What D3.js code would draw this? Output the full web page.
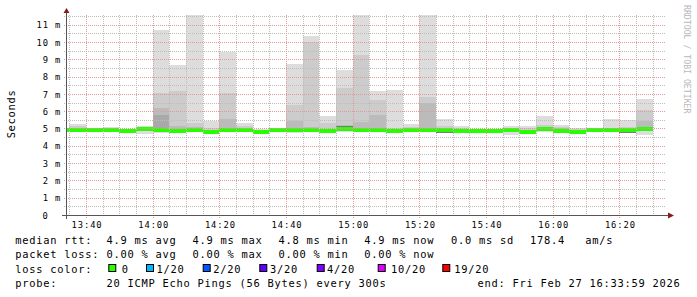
<!DOCTYPE html>
<html><head><meta charset="utf-8">
<script src="https://cdn.jsdelivr.net/npm/d3@7"></script>
<style>
body{margin:0;background:#fff}
svg text{font-family:"DejaVu Sans Mono",monospace;white-space:pre}
</style></head><body>
<svg id="c" width="697" height="297"></svg>
<script>
// ---------- data ----------
const barStarts = ["13:30","13:35","13:40","13:45","13:50","13:55","14:00","14:05","14:10","14:15","14:20","14:25",
  "14:30","14:35","14:40","14:45","14:50","14:55","15:00","15:05","15:10","15:15","15:20","15:25",
  "15:30","15:35","15:40","15:45","15:50","15:55","16:00","16:05","16:10","16:15","16:20","16:25"];
const medianRtt = [4.90,4.90,4.90,4.92,4.85,4.97,4.90,4.88,4.90,4.82,4.90,4.90,
  4.78,4.90,4.90,4.90,4.85,4.95,4.92,4.90,4.85,4.92,4.92,4.90,
  4.85,4.85,4.88,4.90,4.78,4.95,4.88,4.80,4.90,4.92,4.90,4.95];
const smokeMin = [null,4.82,4.80,4.78,4.74,4.70,4.72,4.74,4.80,4.72,4.78,4.80,
  4.70,4.82,4.75,4.78,4.78,4.80,4.80,4.82,4.80,4.85,4.85,4.72,
  4.78,4.80,4.78,4.60,4.70,4.82,4.72,4.74,4.82,4.85,4.72,4.60];
const smokeMax = [null,5.26,5.05,5.10,4.98,5.15,10.70,8.67,12.50,5.43,9.44,5.30,
  4.98,5.03,8.73,10.35,5.72,8.38,12.50,7.18,7.23,5.26,12.50,5.55,
  5.14,4.98,4.97,5.14,5.14,5.72,5.20,5.05,5.05,5.55,5.49,6.70];
const smokeQ2 = [null,5.12,4.98,5.02,4.95,5.05,7.03,7.17,5.34,5.00,7.03,5.14,
  4.90,5.00,6.36,10.02,5.34,7.34,9.25,6.65,5.00,5.10,6.82,5.15,
  5.00,null,null,5.05,5.00,5.20,5.10,4.95,null,5.00,5.10,6.07];
const smokeQ3 = [null,null,null,null,null,null,6.20,5.14,5.10,null,5.55,null,
  null,null,5.44,5.10,null,5.20,5.40,5.78,null,null,6.48,null,
  null,null,null,null,null,null,5.00,null,null,null,null,5.43];
const smokeQ4 = [null,null,null,null,null,null,5.78,null,null,null,null,null,
  null,null,null,null,null,null,null,null,null,null,null,null,
  null,null,null,null,null,null,null,null,null,null,null,null];
const darkLo = [null,null,null,4.80,4.76,null,null,4.78,null,null,4.97,null,
  4.72,4.97,4.97,null,null,5.05,null,null,null,5.00,4.98,4.74,
  null,null,4.80,null,4.71,null,4.74,null,null,null,4.74,null];
const darkHi = [null,null,null,4.84,4.80,null,null,4.82,null,null,5.02,null,
  4.76,5.02,5.02,null,null,5.12,null,null,null,5.05,5.03,4.78,
  null,null,4.84,null,4.74,null,4.78,null,null,null,4.78,null];
const yTicks = [0,1,2,3,4,5,6,7,8,9,10,11];
const xTickLabels = ["13:40","14:00","14:20","14:40","15:00","15:20","15:40","16:00","16:20"];
const lossLabels = ["0","1/20","2/20","3/20","4/20","10/20","19/20"];
const lossColors = ["#26ff00","#00b8ff","#0059ff","#5e00ff","#7e00ff","#dd00ff","#ff0000"];
const rttStats = ["4.9 ms avg","4.9 ms max","4.8 ms min","4.9 ms now","0.0 ms sd","178.4","am/s"];
const lossStats = ["0.00 % avg","0.00 % max","0.00 % min","0.00 % now"];
const probeText = "20 ICMP Echo Pings (56 Bytes) every 300s";
const endText = "end: Fri Feb 27 16:33:59 2026";

// ---------- layout ----------
const W = 697, H = 297;
const L = 66, R = 666, T = 15, B = 215;
const svg = d3.select("#c");
const T0 = new Date(2026,1,27,13,33,59), T1 = new Date(2026,1,27,16,33,59);
const x = d3.scaleTime().domain([T0,T1]).range([L,R]);
const y = d3.scaleLinear().domain([0,11.56]).range([B,T]);
const parseT = s => { const [h,m] = s.split(":").map(Number); return new Date(2026,1,27,h,m,0); };

svg.append("rect").attr("width",W).attr("height",H).attr("fill","#fff");
svg.append("defs").append("clipPath").attr("id","plot")
  .append("rect").attr("x",L).attr("y",T).attr("width",R-L).attr("height",B-T);

const bars = barStarts.map((s,i)=>{
  const t0 = parseT(s);
  return {t0, t1:new Date(t0.getTime()+300000), i};
});
const g = svg.append("g").attr("clip-path","url(#plot)");
const layers = [
  {lo:smokeMin, hi:smokeMax, c:"#dddddd"},
  {lo:medianRtt, hi:smokeQ2, c:"#cccccc"},
  {lo:medianRtt, hi:smokeQ3, c:"#bbbbbb"},
  {lo:medianRtt, hi:smokeQ4, c:"#a9a9a9"},
  {lo:darkLo, hi:darkHi, c:"#7a7a7a"}
];
layers.forEach(ly=>{
  g.append("g").selectAll("rect").data(bars.filter(b=>ly.lo[b.i]!=null && ly.hi[b.i]!=null))
    .join("rect")
    .attr("x",b=>x(b.t0)).attr("width",b=>x(b.t1)-x(b.t0))
    .attr("y",b=>y(ly.hi[b.i])).attr("height",b=>Math.max(0,y(ly.lo[b.i])-y(ly.hi[b.i])))
    .attr("fill",ly.c).attr("shape-rendering","crispEdges");
});
// median
g.append("g").selectAll("rect").data(bars).join("rect")
  .attr("x",b=>x(b.t0)).attr("width",b=>x(b.t1)-x(b.t0))
  .attr("y",b=>y(medianRtt[b.i])-2).attr("height",4)
  .attr("fill",lossColors[0]).attr("shape-rendering","crispEdges");

// grid
const gridG = svg.append("g").attr("stroke-width",1).attr("stroke-dasharray","1,1").attr("shape-rendering","crispEdges");
const minorY = d3.range(1,24).map(k=>k*0.5).filter(v=>v%1!==0);
gridG.selectAll(".hy").data(minorY).join("line")
  .attr("x1",L-2).attr("x2",R).attr("y1",d=>Math.round(y(d))+0.5).attr("y2",d=>Math.round(y(d))+0.5)
  .attr("stroke","#bdbdbd");
const minorX = d3.timeMinute.every(5).range(T0,T1).filter(d=>d.getMinutes()%20!==0);
gridG.selectAll(".vx").data(minorX).join("line")
  .attr("y1",T).attr("y2",B+2).attr("x1",d=>Math.round(x(d))+0.5).attr("x2",d=>Math.round(x(d))+0.5)
  .attr("stroke","#bdbdbd");
gridG.selectAll(".hY").data(yTicks.filter(d=>d>0)).join("line")
  .attr("x1",L-2).attr("x2",R).attr("y1",d=>Math.round(y(d))+0.5).attr("y2",d=>Math.round(y(d))+0.5)
  .attr("stroke","#e09a9a");
const majorX = xTickLabels.map(parseT);
gridG.selectAll(".vX").data(majorX).join("line")
  .attr("y1",T).attr("y2",B+3).attr("x1",d=>Math.round(x(d))+0.5).attr("x2",d=>Math.round(x(d))+0.5)
  .attr("stroke","#e09a9a");

// axes lines
svg.append("line").attr("x1",62).attr("x2",670).attr("y1",B+0.5).attr("y2",B+0.5).attr("stroke","#555").attr("shape-rendering","crispEdges");
svg.append("line").attr("x1",L+0.5).attr("x2",L+0.5).attr("y1",B+4).attr("y2",12).attr("stroke","#555").attr("shape-rendering","crispEdges");
svg.append("path").attr("d","M668,212.5L674,215.5L668,218.5Z").attr("fill","#8b1a1a");
svg.append("path").attr("d","M63.5,13L66.5,8L69.5,13Z").attr("fill","#8b1a1a");

// y axis labels
const yAxis = d3.axisLeft(y).tickValues(yTicks).tickSize(0).tickPadding(0)
  .tickFormat(d=> d===0 ? "0" : d+" m");
const gy = svg.append("g").attr("transform","translate(61,0)").call(yAxis);
gy.select(".domain").remove();
gy.attr("font-family","DejaVu Sans Mono").attr("font-size",8.8);
gy.selectAll("text").attr("fill","#000").attr("letter-spacing",0.8).attr("dy","0.36em")
  .attr("dx",d=> d===0 ? -12.4 : 0);

// x axis labels
const xAxis = d3.axisBottom(x).tickValues(majorX).tickSize(0).tickPadding(0)
  .tickFormat((d,i)=>xTickLabels[i]);
const gx = svg.append("g").call(xAxis);
gx.select(".domain").remove();
gx.attr("font-family","DejaVu Sans Mono").attr("font-size",8.8);
gx.selectAll("text").attr("fill","#000").attr("letter-spacing",0.9).attr("y",227.5).attr("dy",0).attr("dx",0.5);

// y title
svg.append("text").attr("transform","translate(14.5,114) rotate(-90)").attr("text-anchor","middle")
  .attr("font-size",10.4).attr("letter-spacing",0.7).attr("fill","#000").text("Seconds");
// watermark
svg.append("text").attr("transform","translate(684,5) rotate(90)")
  .attr("font-size",8.2).attr("fill","#b8b8b8").text("RRDTOOL / TOBI OETIKER");

// legend
const lg = svg.append("g").attr("font-size",10.4).attr("letter-spacing",0.74).attr("fill","#000");
const colX = [106.6,192.6,278.6,364.3,451,530,585.3];
const rows = [244.3,258.3,272.5,286.5];
lg.append("text").attr("x",15.3).attr("y",rows[0]).text("median rtt:");
rttStats.forEach((s,i)=>lg.append("text").attr("x",colX[i]).attr("y",rows[0]).text(s));
lg.append("text").attr("x",15.3).attr("y",rows[1]).text("packet loss:");
lossStats.forEach((s,i)=>lg.append("text").attr("x",colX[i]).attr("y",rows[1]).text(s));
lg.append("text").attr("x",15.3).attr("y",rows[2]).text("loss color:");
const swX = [108.8,146.5,203.2,259.8,317.2,378.2,442.8];
const swTX = [121.8,156.6,213.3,270,327,391,454.3];
lossLabels.forEach((s,i)=>{
  lg.append("rect").attr("x",swX[i]).attr("y",264.5).attr("width",7).attr("height",7)
    .attr("fill",lossColors[i]).attr("stroke","#000").attr("stroke-width",1);
  lg.append("text").attr("x",swTX[i]).attr("y",rows[2]).text(s);
});
lg.append("text").attr("x",15.3).attr("y",rows[3]).text("probe:");
lg.append("text").attr("x",colX[0]).attr("y",rows[3]).text(probeText);
lg.append("text").attr("x",477.6).attr("y",rows[3]).text(endText);
</script>
</body></html>
